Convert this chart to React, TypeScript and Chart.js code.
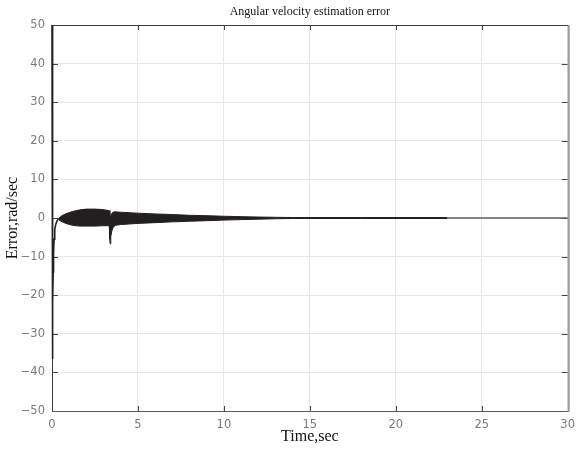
import React, { useEffect, useRef } from "react";
import { Chart, registerables } from "chart.js";

Chart.register(...registerables);

const TITLE = "Angular velocity estimation error";
const X_LABEL = "Time,sec";
const Y_LABEL = "Error,rad/sec";

// initial transient (time, value)
const transientT = [0, 0.02, 0.035, 0.05, 0.07, 0.09, 0.12, 0.16, 0.22, 0.29, 0.36];
const transientV = [50, -36.5, -30, -22, -14, -9, -5.5, -3, -1.6, -0.8, -0.3];

// upper envelope of the oscillation band
const upperT = [0.36, 0.5, 0.8, 1.2, 1.6, 2.0, 2.5, 2.9, 3.2, 3.33, 3.37, 3.42, 3.5, 3.6, 4, 5, 6, 7, 8, 9, 10, 11, 12, 13, 14, 18, 23];
const upperV = [-0.3, 0.4, 1.1, 1.7, 2.1, 2.3, 2.3, 2.2, 2.0, 1.9, -0.5, 0.6, 1.3, 1.6, 1.5, 1.25, 1.05, 0.9, 0.7, 0.6, 0.45, 0.35, 0.25, 0.18, 0.12, 0.12, 0.12];

// lower envelope of the oscillation band
const lowerT = [0.36, 0.5, 0.8, 1.2, 1.6, 2.0, 2.5, 3.0, 3.33, 3.36, 3.38, 3.42, 3.48, 3.56, 3.7, 4, 5, 6, 7, 8, 9, 10, 11, 12, 13, 14, 18, 23];
const lowerV = [-0.3, -0.8, -1.4, -1.9, -2.1, -2.1, -2.1, -2.0, -2.0, -5.5, -6.7, -4.8, -3.4, -2.4, -1.9, -1.7, -1.4, -1.2, -1.0, -0.85, -0.7, -0.55, -0.42, -0.3, -0.2, -0.12, -0.12, -0.12];

// faint residual at the end
const tailT = [23, 26, 30];
const tailV = [0, 0, 0];

const X_MIN = 0, X_MAX = 30, X_STEP = 5;
const Y_MIN = -50, Y_MAX = 50, Y_STEP = 10;

const LINE = "#231f20";

const pts = (t: number[], v: number[]) => t.map((x, i) => ({ x, y: v[i] }));

const frame = {
  id: "frame",
  beforeDatasetsDraw(chart: any) {
    const { ctx, chartArea: a, scales } = chart;
    ctx.save();
    ctx.lineWidth = 1;
    ctx.strokeStyle = "#444";
    const xs = scales.x, ys = scales.y;
    xs.ticks.forEach((t: any) => {
      const px = Math.round(xs.getPixelForValue(t.value)) + 0.5;
      ctx.beginPath();
      ctx.moveTo(px, a.bottom); ctx.lineTo(px, a.bottom - 5);
      ctx.moveTo(px, a.top); ctx.lineTo(px, a.top + 5);
      ctx.stroke();
    });
    ys.ticks.forEach((t: any) => {
      const py = Math.round(ys.getPixelForValue(t.value)) + 0.5;
      ctx.beginPath();
      ctx.moveTo(a.left, py); ctx.lineTo(a.left + 6, py);
      ctx.moveTo(a.right, py); ctx.lineTo(a.right - 6, py);
      ctx.stroke();
    });
    ctx.strokeStyle = "#3a3a3a";
    ctx.beginPath();
    ctx.moveTo(a.left + 0.5, a.bottom + 0.5);
    ctx.lineTo(a.left + 0.5, a.top + 0.5);
    ctx.lineTo(a.right + 0.5, a.top + 0.5);
    ctx.stroke();
    ctx.strokeStyle = "#5a5a5a";
    ctx.beginPath();
    ctx.moveTo(a.left, a.bottom + 0.5);
    ctx.lineTo(a.right + 1, a.bottom + 0.5);
    ctx.stroke();
    ctx.strokeStyle = "#9a9a9a";
    ctx.lineWidth = 2;
    ctx.beginPath();
    ctx.moveTo(a.right + 1, a.top);
    ctx.lineTo(a.right + 1, a.bottom + 1);
    ctx.stroke();
    ctx.restore();
  },
  afterDraw(chart: any) {
    const { ctx, chartArea: a } = chart;
    ctx.save();
    ctx.fillStyle = "#111";
    ctx.font = "12px 'Liberation Serif', serif";
    ctx.textAlign = "center";
    ctx.textBaseline = "middle";
    ctx.fillText(TITLE, (a.left + a.right) / 2, 12);
    ctx.restore();
  },
};

const minus = (v: any) => String(v).replace("-", "\u2212");

export default function App() {
  const ref = useRef<HTMLCanvasElement | null>(null);
  useEffect(() => {
    if (!ref.current) return;
    const chart = new Chart(ref.current, {
      type: "line",
      data: {
        datasets: [
          {
            data: pts(transientT, transientV),
            borderColor: LINE,
            borderWidth: 1.6,
            pointRadius: 0,
            fill: false,
            tension: 0,
            clip: 3,
          } as any,
          {
            data: pts(upperT, upperV),
            borderColor: LINE,
            backgroundColor: LINE,
            borderWidth: 1,
            pointRadius: 0,
            fill: "+1",
            tension: 0,
          } as any,
          {
            data: pts(lowerT, lowerV),
            borderColor: LINE,
            borderWidth: 1,
            pointRadius: 0,
            fill: false,
            tension: 0,
          } as any,
          {
            data: pts(tailT, tailV),
            borderColor: "#606060",
            borderWidth: 1.5,
            pointRadius: 0,
            fill: false,
            tension: 0,
          } as any,
        ],
      },
      options: {
        animation: false,
        responsive: false,
        events: [],
        layout: { padding: { left: 0, right: 9, top: 25, bottom: 0 } },
        plugins: {
          legend: { display: false },
          tooltip: { enabled: false },
          title: { display: false },
        },
        scales: {
          x: {
            type: "linear",
            min: X_MIN,
            max: X_MAX,
            afterFit: (s: any) => { s.height = 39; },
            ticks: {
              stepSize: X_STEP,
              color: "#7a7a7a",
              padding: 7,
              font: { family: "'DejaVu Sans', sans-serif", size: 11.5 },
              callback: (v: any) => minus(v),
            },
            grid: { color: "#e6e6e6", drawTicks: false, lineWidth: 1 },
            border: { display: false },
            title: {
              display: true,
              text: X_LABEL,
              color: "#111",
              font: { family: "'Liberation Serif', serif", size: 16 },
              padding: { top: 0, bottom: 3.5 },
            },
          },
          y: {
            type: "linear",
            min: Y_MIN,
            max: Y_MAX,
            afterFit: (s: any) => { s.width = 52; },
            ticks: {
              stepSize: Y_STEP,
              color: "#7a7a7a",
              padding: 7,
              font: { family: "'DejaVu Sans', sans-serif", size: 11.5 },
              callback: (v: any) => minus(v),
            },
            grid: { color: "#e6e6e6", drawTicks: false, lineWidth: 1 },
            border: { display: false },
            title: {
              display: true,
              text: Y_LABEL,
              color: "#111",
              font: { family: "'Liberation Serif', serif", size: 16 },
              padding: { top: 3.5, bottom: 0 },
            },
          },
        },
      },
      plugins: [frame],
    });
    return () => chart.destroy();
  }, []);
  return (
    <div style={{ position: "absolute", left: 0, top: 0, width: 582, height: 450, background: "#fff" }}>
      <canvas ref={ref} width={582} height={450} />
    </div>
  );
}
